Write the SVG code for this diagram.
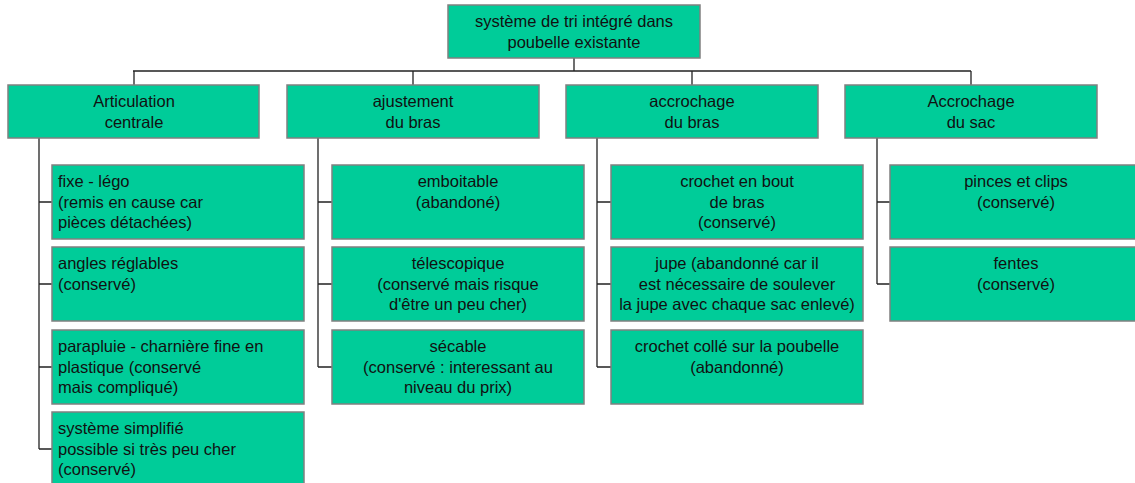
<svg xmlns="http://www.w3.org/2000/svg" width="1135" height="483" viewBox="0 0 1135 483">
<style>
.b{fill:#00CC99;stroke:#808080;stroke-width:1.5}
.t{font-family:"Liberation Sans",Arial,sans-serif;font-size:16.5px;fill:#111}
.c{text-anchor:middle}
.l{fill:none;stroke:#222;stroke-width:1.3}
</style>
<rect width="1135" height="483" fill="#fff"/>
<g id="connectors" class="l">
<path d="M574,58V71M133,71H971M134,71V85M413,71V85M692,71V85M971,71V85"/>
<path d="M39,138V449M39,202H52M39,284H52M39,367H52M39,449H52"/>
<path d="M318,138V367M318,202H332M318,284H332M318,367H332"/>
<path d="M597,138V367M597,202H611M597,284H611M597,367H611"/>
<path d="M877,138V284M877,202H890M877,284H890"/>
</g>
<g id="root"><rect class="b" x="448" y="5" width="252" height="53"/><text class="t c" x="574" y="27"><tspan x="574">système de tri intégré dans</tspan><tspan x="574" dy="20.7">poubelle existante</tspan></text></g>
<g id="n1"><rect class="b" x="8" y="85" width="251" height="53"/><text class="t c" x="134" y="107"><tspan x="134">Articulation</tspan><tspan x="134" dy="20.7">centrale</tspan></text></g>
<g id="n2"><rect class="b" x="287" y="85" width="252" height="53"/><text class="t c" x="413" y="107"><tspan x="413">ajustement</tspan><tspan x="413" dy="20.7">du bras</tspan></text></g>
<g id="n3"><rect class="b" x="566" y="85" width="252" height="53"/><text class="t c" x="692" y="107"><tspan x="692">accrochage</tspan><tspan x="692" dy="20.7">du bras</tspan></text></g>
<g id="n4"><rect class="b" x="845" y="85" width="252" height="53"/><text class="t c" x="971" y="107"><tspan x="971">Accrochage</tspan><tspan x="971" dy="20.7">du sac</tspan></text></g>
<g id="n1a"><rect class="b" x="52" y="165" width="252" height="74"/><text class="t" x="58" y="187"><tspan x="58">fixe - légo</tspan><tspan x="58" dy="20.7">(remis en cause car</tspan><tspan x="58" dy="20.7">pièces détachées)</tspan></text></g>
<g id="n1b"><rect class="b" x="52" y="247" width="252" height="74"/><text class="t" x="58" y="269"><tspan x="58">angles réglables</tspan><tspan x="58" dy="20.7">(conservé)</tspan></text></g>
<g id="n1c"><rect class="b" x="52" y="330" width="252" height="74"/><text class="t" x="58" y="352"><tspan x="58">parapluie - charnière fine en</tspan><tspan x="58" dy="20.7">plastique (conservé</tspan><tspan x="58" dy="20.7">mais compliqué)</tspan></text></g>
<g id="n1d"><rect class="b" x="52" y="412" width="252" height="74"/><text class="t" x="58" y="434"><tspan x="58">système simplifié</tspan><tspan x="58" dy="20.7">possible si très peu cher</tspan><tspan x="58" dy="20.7">(conservé)</tspan></text></g>
<g id="n2a"><rect class="b" x="332" y="165" width="252" height="74"/><text class="t c" x="458" y="187"><tspan x="458">emboitable</tspan><tspan x="458" dy="20.7">(abandoné)</tspan></text></g>
<g id="n2b"><rect class="b" x="332" y="247" width="252" height="74"/><text class="t c" x="458" y="269"><tspan x="458">télescopique</tspan><tspan x="458" dy="20.7">(conservé mais risque</tspan><tspan x="458" dy="20.7">d'être un peu cher)</tspan></text></g>
<g id="n2c"><rect class="b" x="332" y="330" width="252" height="74"/><text class="t c" x="458" y="352"><tspan x="458">sécable</tspan><tspan x="458" dy="20.7">(conservé : interessant au</tspan><tspan x="458" dy="20.7">niveau du prix)</tspan></text></g>
<g id="n3a"><rect class="b" x="611" y="165" width="252" height="74"/><text class="t c" x="737" y="187"><tspan x="737">crochet en bout</tspan><tspan x="737" dy="20.7">de bras</tspan><tspan x="737" dy="20.7">(conservé)</tspan></text></g>
<g id="n3b"><rect class="b" x="611" y="247" width="252" height="74"/><text class="t c" x="737" y="269"><tspan x="737">jupe (abandonné car il</tspan><tspan x="737" dy="20.7">est nécessaire de soulever</tspan><tspan x="737" dy="20.7">la jupe avec chaque sac enlevé)</tspan></text></g>
<g id="n3c"><rect class="b" x="611" y="330" width="252" height="74"/><text class="t c" x="737" y="352"><tspan x="737">crochet collé sur la poubelle</tspan><tspan x="737" dy="20.7">(abandonné)</tspan></text></g>
<g id="n4a"><rect class="b" x="890" y="165" width="252" height="74"/><text class="t c" x="1016" y="187"><tspan x="1016">pinces et clips</tspan><tspan x="1016" dy="20.7">(conservé)</tspan></text></g>
<g id="n4b"><rect class="b" x="890" y="247" width="252" height="74"/><text class="t c" x="1016" y="269"><tspan x="1016">fentes</tspan><tspan x="1016" dy="20.7">(conservé)</tspan></text></g>
</svg>
